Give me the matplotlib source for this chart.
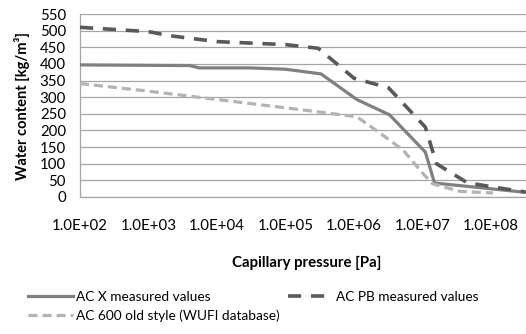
import matplotlib
matplotlib.use('Agg')
import matplotlib.pyplot as plt
from matplotlib.ticker import FixedLocator, FuncFormatter, NullLocator

plt.rcParams['font.family'] = ['Lato', 'DejaVu Sans']
plt.rcParams['lines.scale_dashes'] = False

# ACX measured values
acx_p = [1e2, 4e3, 5.5e3, 3e4, 1e5, 3.3e5, 1.1e6, 3.3e6, 1.1e7, 1.5e7, 3.2e8]
acx_w = [397, 395, 388, 388, 384, 370, 293, 247, 135, 42, 14]

# ACPB measured values
acpb_p = [1e2, 1e3, 2e3, 1e4, 1e5, 3e5, 1e6, 3.2e6, 1.1e7, 1.6e7, 4.5e7, 1.07e8, 3.2e8]
acpb_w = [510, 497, 485, 467, 458, 447, 357, 328, 210, 100, 43, 30, 15]

# AC600 old style (WUFI database)
ac600_p = [1e2, 1e3, 7e3, 1e5, 2.5e5, 1.1e6, 2.4e6, 5.2e6, 1e7, 1.4e7, 3.5e7, 1.07e8]
ac600_w = [341, 318, 297, 268, 258, 241, 192, 141, 72, 40, 17, 12]

x_ticks = [1e2, 1e3, 1e4, 1e5, 1e6, 1e7, 1e8]
y_ticks = list(range(0, 551, 50))

fig = plt.figure(figsize=(5.26, 3.34), dpi=100)
ax = fig.add_axes([80 / 526, 1 - 197 / 334, 446 / 526, 183 / 334])

l1, = ax.plot(acx_p, acx_w, color='#808080', lw=2.3, solid_joinstyle='miter',
              label='AC X measured values', zorder=3)
l2, = ax.plot(acpb_p, acpb_w, color='#595959', lw=2.6, dashes=(9.5, 7),
              label='AC PB measured values', zorder=4)
l3, = ax.plot(ac600_p, ac600_w, color='#b3b3b3', lw=2.3, dashes=(6.5, 3.6),
              label='AC 600 old style (WUFI database)', zorder=5)

ax.set_xscale('log')
ax.set_xlim(1e2, 10 ** (2 + 446 / 68.5))
ax.set_ylim(0, 550)
ax.xaxis.set_major_locator(FixedLocator(x_ticks))
ax.xaxis.set_minor_locator(NullLocator())
ax.xaxis.set_major_formatter(FuncFormatter(lambda v, pos: f'{v:.1E}'))
ax.set_yticks(y_ticks)

ax.grid(axis='y', color='#a6a6a6', lw=0.9)
ax.grid(axis='x', visible=False)
ax.set_axisbelow(True)
for s in ['top', 'right']:
    ax.spines[s].set_visible(False)
for s in ['left', 'bottom']:
    ax.spines[s].set_color('#a6a6a6')
    ax.spines[s].set_linewidth(0.9)

ax.tick_params(axis='x', length=0, pad=16, labelsize=10.8, colors='black')
ax.tick_params(axis='y', length=0, pad=10, labelsize=10.8, colors='black')

fig.text(22 / 526, 1 - 106 / 334, 'Water content [kg/m³]', rotation=90,
         ha='center', va='center', fontsize=10.5, fontweight='bold')
fig.text(307 / 526, 1 - 263 / 334, 'Capillary pressure [Pa]',
         ha='center', va='center', fontsize=10.8, fontweight='bold')

fig.legend([l1, l3, l2], [l1.get_label(), l3.get_label(), l2.get_label()],
           loc='upper left', bbox_to_anchor=(28 / 526, 1 - 291 / 334),
           ncol=2, frameon=False, fontsize=9.8, handlelength=3.3,
           handletextpad=0.25, columnspacing=0.6, labelspacing=0.45,
           borderaxespad=0, borderpad=0)

fig.savefig('out.png', dpi=100)
